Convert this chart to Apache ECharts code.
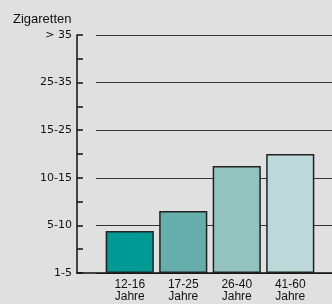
<!DOCTYPE html>
<html>
<head>
<meta charset="utf-8">
<script src="https://cdn.jsdelivr.net/npm/echarts@6/dist/echarts.min.js"></script>
<style>
html,body{margin:0;padding:0;background:#e0e0e0;}
#main{width:332px;height:304px;}
</style>
</head>
<body>
<div id="main"></div>
<script>
var main=document.getElementById("main");
var myChart=echarts.init(main);

// Daten
var categories=['12-16\nJahre','17-25\nJahre','26-40\nJahre','41-60\nJahre'];
var values=[0.88,1.30,2.25,2.50];
var barColors=['#009a94','#66aeab','#93c2bf','#bdd8d8'];
var yTickLabels=['1-5','5-10','10-15','15-25','25-35','> 35'];

var font='"Liberation Sans", Arial, sans-serif';
var wideFont='"DejaVu Sans", sans-serif';   // y-labels sind im original breit gezogen

var option={
  backgroundColor:'#e0e0e0',
  animation:false,
  graphic:[{
    type:'text',
    left:13, top:13,
    style:{text:'Zigaretten',font:'13px '+font,fill:'#111'}
  }],
  grid:[
    {left:77,right:0,top:35,bottom:31},     // achse
    {left:96,right:0,top:35,bottom:31},     // gitterlinien
    {left:103,right:15,top:35,bottom:31}    // balken
  ],
  xAxis:[
    {gridIndex:0,type:'category',data:categories,
     axisLine:{show:true,lineStyle:{color:'#111',width:1.5}},
     axisTick:{show:false},axisLabel:{show:false}},
    {gridIndex:1,type:'category',data:categories,show:false},
    {gridIndex:2,type:'category',data:categories,
     axisLine:{show:false},axisTick:{show:false},
     axisLabel:{show:true,color:'#111',fontSize:12,fontFamily:font,lineHeight:12,margin:6,interval:0}}
  ],
  yAxis:[
    {gridIndex:0,type:'value',min:0,max:5,interval:1,
     axisLine:{show:true,lineStyle:{color:'#111',width:1.5}},
     axisTick:{show:true,inside:true,length:6,lineStyle:{color:'#111',width:1.5}},
     minorTick:{show:true,splitNumber:2,length:6,lineStyle:{color:'#111',width:1.5}},
     splitLine:{show:false},
     axisLabel:{color:'#111',fontSize:11,fontFamily:wideFont,margin:5,
       formatter:function(v){return yTickLabels[Math.round(v)];}}},
    {gridIndex:1,type:'value',min:0,max:5,interval:1,
     axisLine:{show:false},axisTick:{show:false},axisLabel:{show:false},
     splitLine:{show:true,lineStyle:{color:'#333',width:1.2}}},
    {gridIndex:2,type:'value',min:0,max:5,show:false,splitLine:{show:false}}
  ],
  series:[{
    type:'bar',
    xAxisIndex:2,yAxisIndex:2,
    barCategoryGap:'10%',
    data:values.map(function(v,i){
      return {value:v,itemStyle:{color:barColors[i]}};
    }),
    itemStyle:{borderColor:'#222',borderWidth:1.5}
  }]
};

myChart.setOption(option);
</script>
</body>
</html>
